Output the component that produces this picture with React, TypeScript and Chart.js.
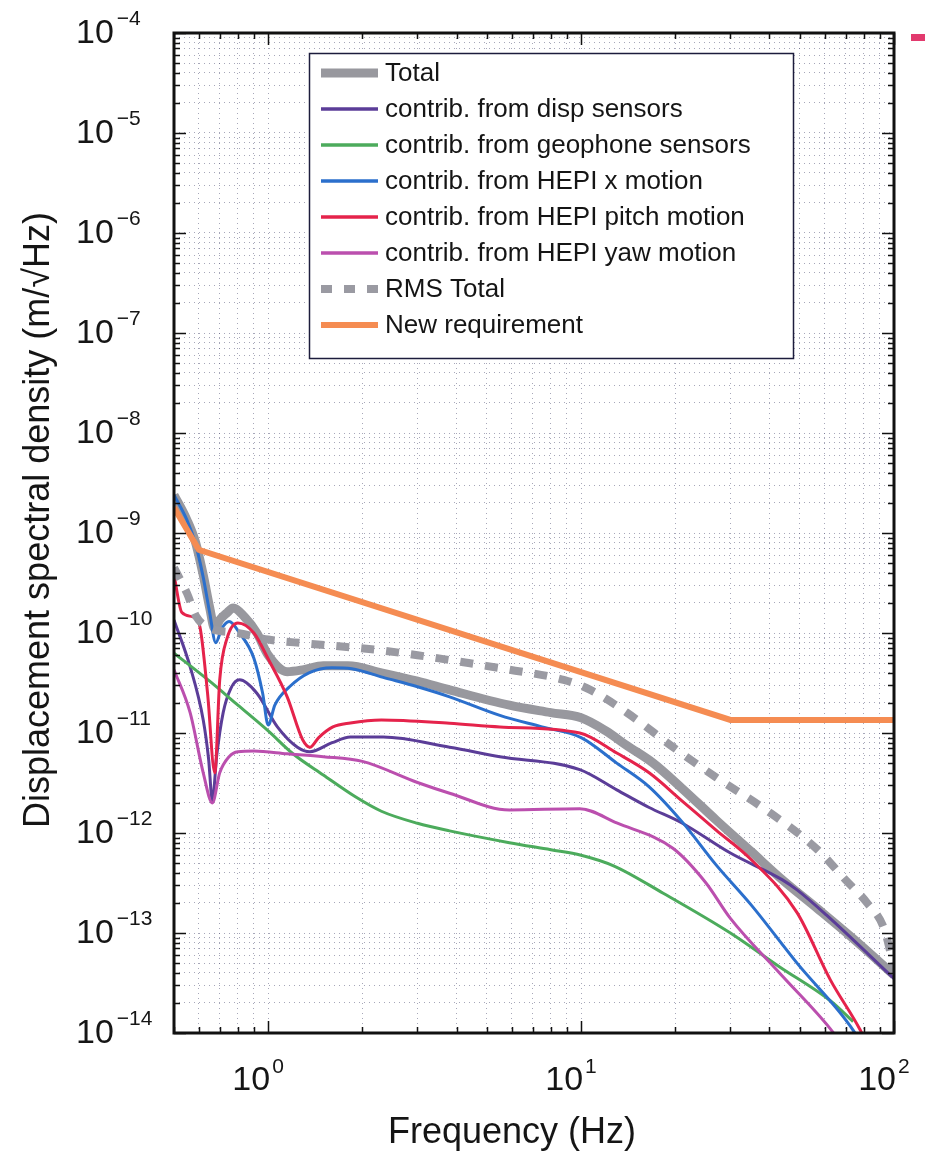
import React, { useEffect, useRef } from 'react';
import { Chart, registerables } from 'chart.js';
Chart.register(...registerables);

// ---------- data (frequency in Hz, displacement in m/√Hz) ----------
const totalF = [0.5, 0.55, 0.585, 0.62, 0.65, 0.675, 0.7, 0.74, 0.773, 0.84, 0.92, 1.0, 1.15, 1.3, 1.5, 1.8, 2.3, 3.0, 3.8, 5.9, 8, 10, 12, 14, 17, 21, 27, 35, 44, 57, 75, 100];
const totalV = [2.4e-9, 1.35e-9, 8.2e-10, 3.8e-10, 1.8e-10, 1.1e-10, 1.35e-10, 1.6e-10, 1.78e-10, 1.45e-10, 1.0e-10, 6.0e-11, 4.1e-11, 4.3e-11, 4.7e-11, 4.7e-11, 4.0e-11, 3.3e-11, 2.7e-11, 1.9e-11, 1.6e-11, 1.42e-11, 1.05e-11, 7.5e-12, 5.0e-12, 2.8e-12, 1.35e-12, 6.5e-13, 3.4e-13, 1.75e-13, 8.5e-14, 3.8e-14];

const dispF = [0.5, 0.563, 0.62, 0.645, 0.663, 0.685, 0.718, 0.76, 0.81, 0.92, 1.07, 1.24, 1.36, 1.6, 1.83, 2.33, 3.8, 5.5, 9.9, 13, 16.5, 21, 30, 44, 49, 61, 100];
const dispV = [1.35e-10, 4.6e-11, 1.35e-11, 5.5e-12, 2.1e-12, 6e-12, 1.6e-11, 2.8e-11, 3.4e-11, 2.5e-11, 1.15e-11, 7.2e-12, 6.5e-12, 8e-12, 9.1e-12, 9.1e-12, 7.2e-12, 5.8e-12, 4.3e-12, 2.7e-12, 1.8e-12, 1.26e-12, 6.3e-13, 3.4e-13, 2.7e-13, 1.5e-13, 3.5e-14];

const geoF = [0.5, 0.65, 0.8, 1.0, 1.2, 1.5, 1.9, 2.3, 3.0, 3.8, 5.9, 8, 10, 12.7, 18.3, 30, 43, 62.6, 74];
const geoV = [6.3e-11, 3.3e-11, 1.9e-11, 1.05e-11, 6.2e-12, 3.8e-12, 2.3e-12, 1.65e-12, 1.25e-12, 1.05e-12, 8e-13, 6.8e-13, 6e-13, 4.7e-13, 2.5e-13, 1e-13, 4.6e-14, 2.1e-14, 1.3e-14];

const hepiXF = [0.5, 0.55, 0.585, 0.62, 0.65, 0.68, 0.71, 0.75, 0.81, 0.9, 0.96, 1.0, 1.05, 1.17, 1.35, 1.6, 1.85, 2.33, 3.0, 3.8, 5.5, 7.5, 10, 13, 16.5, 21, 27, 35, 49, 74, 85];
const hepiXV = [2.4e-9, 1.35e-9, 7.9e-10, 3.6e-10, 1.6e-10, 8e-11, 1.1e-10, 1.3e-10, 1.0e-10, 5.6e-11, 2.5e-11, 1.2e-11, 1.9e-11, 2.9e-11, 4.0e-11, 4.5e-11, 4.4e-11, 3.6e-11, 2.9e-11, 2.3e-11, 1.5e-11, 1.15e-11, 9e-12, 5e-12, 2.9e-12, 1.3e-12, 4.8e-13, 1.9e-13, 5e-14, 1.07e-14, 5e-15];

const pitchF = [0.5, 0.53, 0.575, 0.605, 0.64, 0.675, 0.7, 0.74, 0.8, 0.9, 1.0, 1.15, 1.29, 1.36, 1.45, 1.61, 1.83, 2.3, 3.8, 5.5, 9.9, 13, 16.5, 21, 27, 35, 49, 62.6, 78, 85];
const pitchV = [3.8e-10, 1.6e-10, 1.45e-10, 1.15e-10, 2.5e-11, 4e-12, 3.4e-11, 9e-11, 1.26e-10, 1.0e-10, 5.5e-11, 2.3e-11, 8.5e-12, 7.2e-12, 9e-12, 1.15e-11, 1.26e-11, 1.35e-11, 1.25e-11, 1.15e-11, 1.0e-11, 6.3e-12, 4e-12, 2.1e-12, 1.07e-12, 5.4e-13, 1.6e-13, 3.4e-14, 1.07e-14, 6e-15];

const yawF = [0.5, 0.563, 0.62, 0.663, 0.7, 0.75, 0.8, 0.9, 1.15, 1.5, 2.0, 3.0, 3.8, 5.9, 9.9, 13, 19.7, 25, 30, 43, 62.6, 72];
const yawV = [4.3e-11, 1.6e-11, 4e-12, 2e-12, 4e-12, 5.8e-12, 6.5e-12, 6.6e-12, 6.2e-12, 5.8e-12, 5.2e-12, 3.2e-12, 2.5e-12, 1.7e-12, 1.75e-12, 1.26e-12, 7e-13, 3.2e-13, 1.4e-13, 4e-14, 1.1e-14, 6e-15];

const rmsF = [0.5, 0.55, 0.59, 0.65, 0.8, 1.0, 1.3, 1.83, 2.3, 3.0, 4.75, 5.9, 8.8, 10.7, 14, 19.7, 27, 39, 57, 70, 82, 93, 100];
const rmsV = [4.5e-10, 2.5e-10, 1.45e-10, 1.12e-10, 1.0e-10, 8.6e-11, 7.9e-11, 7.2e-11, 6.7e-11, 6e-11, 4.8e-11, 4.3e-11, 3.4e-11, 2.7e-11, 1.6e-11, 7.2e-12, 3.6e-12, 1.7e-12, 6.8e-13, 3.4e-13, 2e-13, 1.1e-13, 4.5e-14];

const reqF = [0.5, 0.6, 30, 100];
const reqV = [1.8e-9, 6.8e-10, 1.35e-11, 1.35e-11];

const seriesLabels = [
  'Total',
  'contrib. from disp sensors',
  'contrib. from geophone sensors',
  'contrib. from HEPI x motion',
  'contrib. from HEPI pitch motion',
  'contrib. from HEPI yaw motion',
  'RMS Total',
  'New requirement',
];

// axis ticks
const xTickValues = [0.5, 0.6, 0.7, 0.8, 0.9, 1, 2, 3, 4, 5, 6, 7, 8, 9, 10, 20, 30, 40, 50, 60, 70, 80, 90, 100];
const xLabelExps = [0, 1, 2];
const yLabelExps = [-14, -13, -12, -11, -10, -9, -8, -7, -6, -5, -4];
const yTickValues: number[] = [];
for (let e = -14; e < -4; e++) {
  for (let k = 1; k <= 9; k++) yTickValues.push(k * Math.pow(10, e));
}
yTickValues.push(1e-4);

const FONT = '"Liberation Sans", Arial, Helvetica, sans-serif';
const TEXT = '#151515';

const pts = (f: number[], v: number[]) => f.map((x, i) => ({ x, y: v[i] }));

const isDecade = (v: number) => Math.abs(Math.log10(v) - Math.round(Math.log10(v))) < 1e-6;

const decorPlugin = {
  id: 'decor',
  beforeDraw(chart: any) {
    const ctx = chart.ctx;
    ctx.save();
    ctx.fillStyle = '#ffffff';
    ctx.fillRect(0, 0, chart.width, chart.height);
    ctx.restore();
  },
  afterDraw(chart: any) {
    const ctx: CanvasRenderingContext2D = chart.ctx;
    const a = chart.chartArea;
    const xs = chart.scales.x;
    const ys = chart.scales.y;
    ctx.save();

    // inward tick marks
    ctx.strokeStyle = '#111';
    ctx.lineWidth = 1.5;
    ctx.beginPath();
    xTickValues.forEach((v) => {
      const px = Math.round(xs.getPixelForValue(v)) + 0.5;
      const len = isDecade(v) ? 12 : 6;
      ctx.moveTo(px, a.bottom);
      ctx.lineTo(px, a.bottom - len);
      ctx.moveTo(px, a.top);
      ctx.lineTo(px, a.top + len);
    });
    yTickValues.forEach((v) => {
      const py = Math.round(ys.getPixelForValue(v)) + 0.5;
      const len = isDecade(v) ? 12 : 6;
      ctx.moveTo(a.left, py);
      ctx.lineTo(a.left + len, py);
      ctx.moveTo(a.right, py);
      ctx.lineTo(a.right - len, py);
    });
    ctx.stroke();

    // axes box
    ctx.lineWidth = 3;
    ctx.strokeStyle = '#111';
    ctx.strokeRect(a.left, a.top, a.right - a.left, a.bottom - a.top);

    // y tick labels
    ctx.fillStyle = TEXT;
    ctx.textBaseline = 'alphabetic';
    yLabelExps.forEach((e) => {
      const py = ys.getPixelForValue(Math.pow(10, e));
      ctx.font = `34px ${FONT}`;
      ctx.textAlign = 'left';
      ctx.fillText('10', 76, py + 10);
      const w = ctx.measureText('10').width;
      ctx.font = `21px ${FONT}`;
      ctx.fillText(String(e).replace('-', '\u2212'), 76 + w + 3, py - 8);
    });

    // x tick labels
    xLabelExps.forEach((e) => {
      const px = xs.getPixelForValue(Math.pow(10, e));
      ctx.font = `34px ${FONT}`;
      ctx.textAlign = 'right';
      ctx.fillText('10', px + 2, a.bottom + 57);
      ctx.font = `21px ${FONT}`;
      ctx.textAlign = 'left';
      ctx.fillText(String(e), px + 4, a.bottom + 40);
    });

    // axis titles
    ctx.font = `36px ${FONT}`;
    ctx.textAlign = 'center';
    ctx.fillText('Frequency (Hz)', 512, a.bottom + 110);

    ctx.save();
    ctx.translate(49, 520);
    ctx.rotate(-Math.PI / 2);
    ctx.font = `36px ${FONT}`;
    ctx.textAlign = 'center';
    ctx.fillText('Displacement spectral density (m/\u221AHz)', 0, 0);
    ctx.restore();

    // legend
    const lx = 309.5, ly = 53.5, lw = 484, lh = 305;
    ctx.fillStyle = '#ffffff';
    ctx.fillRect(lx, ly, lw, lh);
    ctx.lineWidth = 1.5;
    ctx.strokeStyle = '#1c1c3c';
    ctx.strokeRect(lx, ly, lw, lh);
    chart.data.datasets.forEach((ds: any, i: number) => {
      const y = 73 + 36 * i;
      ctx.save();
      ctx.strokeStyle = ds.borderColor;
      ctx.lineWidth = Math.max(ds.borderWidth, 3.5);
      ctx.setLineDash(ds.borderDash ? [11, 12] : []);
      ctx.lineCap = 'butt';
      ctx.beginPath();
      ctx.moveTo(321, y);
      ctx.lineTo(378, y);
      ctx.stroke();
      ctx.restore();
      ctx.fillStyle = TEXT;
      ctx.font = `26px ${FONT}`;
      ctx.textAlign = 'left';
      ctx.textBaseline = 'middle';
      ctx.fillText(ds.label, 385, y + 1);
    });

    // small clipped mark at the top right edge
    ctx.fillStyle = '#e23a6e';
    ctx.fillRect(911, 34, 14, 7);

    ctx.restore();
  },
};

export default function App() {
  const ref = useRef<HTMLCanvasElement | null>(null);

  useEffect(() => {
    if (!ref.current) return;
    const mk = (label: string, f: number[], v: number[], color: string, width: number, order: number, extra: any = {}) => ({
      label,
      data: pts(f, v),
      borderColor: color,
      backgroundColor: color,
      borderWidth: width,
      pointRadius: 0,
      fill: false,
      order,
      clip: 0,
      cubicInterpolationMode: 'monotone',
      ...extra,
    });
    const chart = new Chart(ref.current, {
      type: 'line',
      data: {
        datasets: [
          mk(seriesLabels[0], totalF, totalV, '#98989e', 9, 8),
          mk(seriesLabels[1], dispF, dispV, '#5b3d98', 3, 7),
          mk(seriesLabels[2], geoF, geoV, '#4cab5c', 3, 6),
          mk(seriesLabels[3], hepiXF, hepiXV, '#2b6fcc', 3, 5),
          mk(seriesLabels[4], pitchF, pitchV, '#e5234b', 3, 4),
          mk(seriesLabels[5], yawF, yawV, '#bb4fae', 3, 3),
          mk(seriesLabels[6], rmsF, rmsV, '#9a9aa2', 8, 2, { borderDash: [13, 12] }),
          mk(seriesLabels[7], reqF, reqV, '#f58c52', 6, 1, { cubicInterpolationMode: 'default', tension: 0 }),
        ] as any,
      },
      options: {
        responsive: false,
        animation: false,
        events: [],
        layout: { padding: { left: 174, right: 31, top: 33, bottom: 120 } },
        plugins: { legend: { display: false }, tooltip: { enabled: false }, title: { display: false } },
        scales: {
          x: {
            type: 'logarithmic',
            min: 0.5,
            max: 100,
            afterBuildTicks: (axis: any) => {
              axis.ticks = xTickValues.map((v) => ({ value: v }));
            },
            ticks: { display: false },
            grid: { color: 'rgba(80,80,115,0.5)', lineWidth: 1, drawTicks: false },
            border: { display: false, dash: [1, 4] },
          },
          y: {
            type: 'logarithmic',
            min: 1e-14,
            max: 1e-4,
            afterBuildTicks: (axis: any) => {
              axis.ticks = yTickValues.map((v) => ({ value: v }));
            },
            ticks: { display: false },
            grid: { color: 'rgba(80,80,115,0.5)', lineWidth: 1, drawTicks: false },
            border: { display: false, dash: [1, 4] },
          },
        },
      } as any,
      plugins: [decorPlugin],
    });
    return () => chart.destroy();
  }, []);

  return (
    <div style={{ position: 'absolute', left: 0, top: 0, width: 925, height: 1153 }}>
      <canvas ref={ref} width={925} height={1153} style={{ display: 'block', width: 925, height: 1153 }} />
    </div>
  );
}
